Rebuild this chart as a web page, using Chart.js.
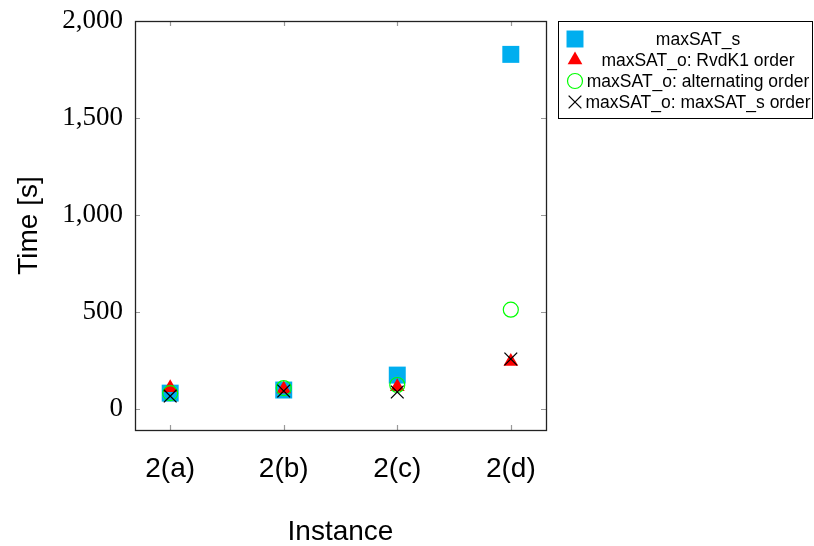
<!DOCTYPE html>
<html>
<head>
<meta charset="utf-8">
<script src="https://cdn.jsdelivr.net/npm/chart.js@4/dist/chart.umd.min.js"></script>
<style>
html,body{margin:0;padding:0;background:#fff;}
#wrap{width:814px;height:546px;}
</style>
</head>
<body>
<div id="wrap"><canvas id="c" width="814" height="546"></canvas></div>
<script>
const instances = ["2(a)", "2(b)", "2(c)", "2(d)"];
const yTicks = [0, 500, 1000, 1500, 2000];
const maxSATs = [82, 98, 175, 1828];
const rvdk1Order = [110, 103, 115, 245];
const alternatingOrder = [82, 108, 124, 512];
const maxSATsOrder = [67, 93, 88, 258];
const seriesNames = ["maxSAT_s", "maxSAT_o: RvdK1 order", "maxSAT_o: alternating order", "maxSAT_o: maxSAT_s order"];

const toPts = arr => arr.map((v, i) => ({x: i, y: v}));

const datasets = [
  {label: seriesNames[0], data: toPts(maxSATs), order: 4, pointStyle: 'rect', pointRadius: 12, backgroundColor: '#00aeef', borderColor: '#00aeef', borderWidth: 0},
  {label: seriesNames[1], data: toPts(rvdk1Order), order: 3, pointStyle: 'triangle', pointRadius: 8.5, backgroundColor: '#ff0000', borderColor: '#ff0000', borderWidth: 0},
  {label: seriesNames[2], data: toPts(alternatingOrder), order: 2, pointStyle: 'circle', pointRadius: 7.5, backgroundColor: 'rgba(0,0,0,0)', borderColor: '#00ff00', borderWidth: 1.2},
  {label: seriesNames[3], data: toPts(maxSATsOrder), order: 1, pointStyle: 'crossRot', pointRadius: 9, backgroundColor: '#000', borderColor: '#000', borderWidth: 1.3}
];

const framePlugin = {
  id: 'frame',
  afterDatasetsDraw(chart) {
    const ctx = chart.ctx, a = chart.chartArea;
    const xs = chart.scales.x, ys = chart.scales.y;
    ctx.save();
    ctx.strokeStyle = '#999';
    ctx.lineWidth = 1.2;
    const L = 5;
    yTicks.forEach(v => {
      const p = Math.round(ys.getPixelForValue(v)) + 0.5;
      ctx.beginPath();
      ctx.moveTo(a.left, p); ctx.lineTo(a.left + L, p);
      ctx.moveTo(a.right, p); ctx.lineTo(a.right - L, p);
      ctx.stroke();
    });
    instances.forEach((_, i) => {
      const p = Math.round(xs.getPixelForValue(i)) + 0.5;
      ctx.beginPath();
      ctx.moveTo(p, a.bottom); ctx.lineTo(p, a.bottom - L);
      ctx.moveTo(p, a.top); ctx.lineTo(p, a.top + L);
      ctx.stroke();
    });
    ctx.strokeStyle = '#222';
    ctx.lineWidth = 1.3;
    ctx.strokeRect(a.left + 0.5, a.top + 0.5, a.right - a.left, a.bottom - a.top);
    ctx.restore();
  },
  afterDraw(chart) {
    const ctx = chart.ctx;
    const bx = 558.5, by = 21.5, bw = 254, bh = 97;
    ctx.save();
    ctx.fillStyle = '#fff';
    ctx.fillRect(bx, by, bw, bh);
    ctx.strokeStyle = '#000';
    ctx.lineWidth = 1;
    ctx.strokeRect(bx, by, bw, bh);
    const rows = [39, 60, 81, 102];
    ctx.font = '17.5px "Liberation Sans", Arial, sans-serif';
    ctx.textAlign = 'center';
    ctx.textBaseline = 'middle';
    chart.data.datasets.forEach((ds, i) => {
      ctx.save();
      ctx.fillStyle = ds.backgroundColor;
      ctx.strokeStyle = ds.borderColor;
      ctx.lineWidth = ds.borderWidth;
      Chart.helpers.drawPoint(ctx, {pointStyle: ds.pointStyle, radius: ds.pointRadius, rotation: 0, borderWidth: ds.borderWidth}, 575, rows[i]);
      ctx.restore();
      ctx.fillStyle = '#000';
      ctx.fillText(ds.label, 698, rows[i] + 1);
    });
    ctx.restore();
  }
};

new Chart(document.getElementById('c'), {
  type: 'scatter',
  data: {datasets},
  options: {
    responsive: false,
    animation: false,
    layout: {padding: {top: 21, right: 268, left: 0, bottom: 0}},
    plugins: {legend: {display: false}, tooltip: {enabled: false}},
    scales: {
      x: {
        type: 'linear', min: -0.31, max: 3.31,
        afterBuildTicks: s => { s.ticks = instances.map((_, i) => ({value: i})); },
        afterFit: s => { s.height = 116; s.paddingLeft = 0; s.paddingRight = 0; },
        grid: {display: false, drawTicks: false, tickLength: 0},
        border: {display: false},
        ticks: {
          callback: v => instances[v] ?? '',
          color: '#000', padding: 25, maxRotation: 0, autoSkip: false,
          font: {family: '"Liberation Sans", Arial, sans-serif', size: 28, lineHeight: 1}
        },
        title: {display: true, text: 'Instance', color: '#000', padding: {top: 0, bottom: 0},
          font: {family: '"Liberation Sans", Arial, sans-serif', size: 28, lineHeight: 1}}
      },
      y: {
        type: 'linear', min: -108, max: 2000,
        afterBuildTicks: s => { s.ticks = yTicks.map(v => ({value: v})); },
        afterFit: s => { s.width = 135; s.paddingTop = 0; s.paddingBottom = 0; },
        grid: {display: false, drawTicks: false, tickLength: 0},
        border: {display: false},
        ticks: {
          callback: v => v.toLocaleString('en-US'),
          color: '#000', padding: 12,
          font: {family: '"Liberation Serif", "DejaVu Serif", serif', size: 27}
        },
        title: {display: true, text: 'Time [s]', color: '#000', padding: {top: 15, bottom: 0},
          font: {family: '"Liberation Sans", Arial, sans-serif', size: 28, lineHeight: 1}}
      }
    }
  },
  plugins: [framePlugin]
});
</script>
</body>
</html>
